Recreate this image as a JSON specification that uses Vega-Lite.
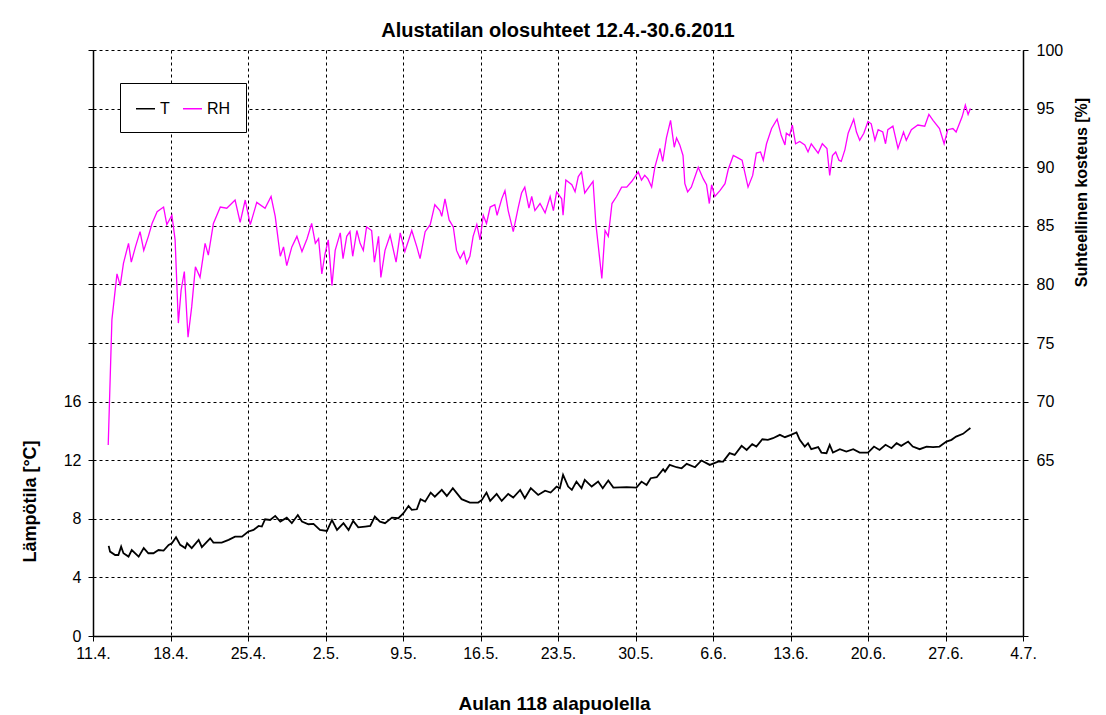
{
  "$schema": "https://vega.github.io/schema/vega-lite/v6.json",
  "width": 930,
  "height": 586,
  "autosize": "none",
  "padding": {"left": 93, "top": 50, "right": 83, "bottom": 79},
  "background": "white",
  "config": {
    "view": {"stroke": null},
    "font": "Liberation Sans",
    "axis": {
      "labelFont": "Liberation Sans",
      "labelFontSize": 16,
      "labelColor": "#000",
      "titleFont": "Liberation Sans",
      "titleFontWeight": "bold",
      "titleColor": "#000",
      "domainColor": "#000",
      "domainWidth": 1.5,
      "tickColor": "#000",
      "tickSize": 5,
      "tickWidth": 1
    }
  },
  "title": {
    "text": "Alustatilan olosuhteet 12.4.-30.6.2011",
    "font": "Liberation Sans",
    "fontSize": 20,
    "fontWeight": "bold",
    "color": "#000",
    "anchor": "middle",
    "offset": 1
  },
  "datasets": {
    "temp": [
      {"t":"2011-04-12T10:00","v":6.15},{"t":"2011-04-12T13:00","v":5.76},{"t":"2011-04-13T00:00","v":5.53},{"t":"2011-04-13T07:00","v":5.53},
      {"t":"2011-04-13T13:00","v":6.1},{"t":"2011-04-13T18:00","v":5.65},{"t":"2011-04-14T05:00","v":5.42},{"t":"2011-04-14T12:00","v":5.87},
      {"t":"2011-04-15T03:00","v":5.42},{"t":"2011-04-15T14:00","v":6.0},{"t":"2011-04-16T00:00","v":5.65},{"t":"2011-04-16T11:00","v":5.65},
      {"t":"2011-04-16T22:00","v":5.87},{"t":"2011-04-17T09:00","v":5.83},{"t":"2011-04-17T20:00","v":6.22},{"t":"2011-04-18T03:00","v":6.33},
      {"t":"2011-04-18T12:00","v":6.74},{"t":"2011-04-18T21:00","v":6.22},{"t":"2011-04-19T08:00","v":6.0},{"t":"2011-04-19T12:00","v":6.33},
      {"t":"2011-04-19T22:00","v":6.0},{"t":"2011-04-20T13:00","v":6.56},{"t":"2011-04-20T20:00","v":6.06},{"t":"2011-04-21T14:00","v":6.67},
      {"t":"2011-04-21T21:00","v":6.38},{"t":"2011-04-22T15:00","v":6.38},{"t":"2011-04-23T06:00","v":6.56},{"t":"2011-04-23T20:00","v":6.78},
      {"t":"2011-04-24T11:00","v":6.78},{"t":"2011-04-25T00:00","v":7.12},{"t":"2011-04-25T12:00","v":7.24},{"t":"2011-04-25T23:00","v":7.51},
      {"t":"2011-04-26T06:00","v":7.47},{"t":"2011-04-26T13:00","v":7.97},{"t":"2011-04-27T00:00","v":7.92},{"t":"2011-04-27T11:00","v":8.2},
      {"t":"2011-04-27T22:00","v":7.81},{"t":"2011-04-28T12:00","v":8.08},{"t":"2011-04-28T23:00","v":7.7},{"t":"2011-04-29T12:00","v":8.26},
      {"t":"2011-04-29T21:00","v":7.81},{"t":"2011-04-30T11:00","v":7.63},{"t":"2011-04-30T22:00","v":7.65},{"t":"2011-05-01T12:00","v":7.24},
      {"t":"2011-05-02T03:00","v":7.17},{"t":"2011-05-02T14:00","v":7.92},{"t":"2011-05-03T01:00","v":7.24},{"t":"2011-05-03T15:00","v":7.7},
      {"t":"2011-05-04T02:00","v":7.24},{"t":"2011-05-04T12:00","v":7.86},{"t":"2011-05-04T23:00","v":7.42},{"t":"2011-05-05T14:00","v":7.47},
      {"t":"2011-05-06T01:00","v":7.51},{"t":"2011-05-06T11:00","v":8.15},{"t":"2011-05-06T22:00","v":7.81},{"t":"2011-05-07T09:00","v":7.7},
      {"t":"2011-05-08T00:00","v":8.08},{"t":"2011-05-08T14:00","v":8.04},{"t":"2011-05-09T01:00","v":8.38},{"t":"2011-05-09T12:00","v":8.88},
      {"t":"2011-05-09T19:00","v":8.61},{"t":"2011-05-10T06:00","v":8.65},{"t":"2011-05-10T14:00","v":9.34},{"t":"2011-05-11T00:00","v":9.17},
      {"t":"2011-05-11T12:00","v":9.79},{"t":"2011-05-11T21:00","v":9.51},{"t":"2011-05-12T12:00","v":9.97},{"t":"2011-05-12T23:00","v":9.56},
      {"t":"2011-05-13T12:00","v":10.09},{"t":"2011-05-14T07:00","v":9.34},{"t":"2011-05-15T01:00","v":9.11},{"t":"2011-05-15T19:00","v":9.11},
      {"t":"2011-05-16T03:00","v":9.29},{"t":"2011-05-16T13:00","v":9.79},{"t":"2011-05-16T21:00","v":9.22},{"t":"2011-05-17T11:00","v":9.7},
      {"t":"2011-05-17T22:00","v":9.22},{"t":"2011-05-18T12:00","v":9.7},{"t":"2011-05-18T23:00","v":9.45},{"t":"2011-05-19T14:00","v":9.97},
      {"t":"2011-05-20T00:00","v":9.4},{"t":"2011-05-20T13:00","v":10.09},{"t":"2011-05-21T05:00","v":9.63},{"t":"2011-05-21T20:00","v":9.92},
      {"t":"2011-05-22T08:00","v":9.79},{"t":"2011-05-22T21:00","v":10.2},{"t":"2011-05-23T04:00","v":10.09},{"t":"2011-05-23T11:00","v":11.0},
      {"t":"2011-05-23T22:00","v":10.2},{"t":"2011-05-24T06:00","v":9.97},{"t":"2011-05-24T16:00","v":10.54},{"t":"2011-05-25T03:00","v":10.09},
      {"t":"2011-05-25T10:00","v":10.66},{"t":"2011-05-26T01:00","v":10.2},{"t":"2011-05-26T15:00","v":10.54},{"t":"2011-05-27T01:00","v":10.09},
      {"t":"2011-05-27T13:00","v":10.61},{"t":"2011-05-28T00:00","v":10.13},{"t":"2011-05-29T05:00","v":10.16},{"t":"2011-05-30T02:00","v":10.13},
      {"t":"2011-05-30T13:00","v":10.54},{"t":"2011-05-31T00:00","v":10.31},{"t":"2011-05-31T09:00","v":10.77},{"t":"2011-05-31T22:00","v":10.84},
      {"t":"2011-06-01T12:00","v":11.39},{"t":"2011-06-01T16:00","v":11.22},{"t":"2011-06-02T02:00","v":11.68},{"t":"2011-06-02T17:00","v":11.52},
      {"t":"2011-06-03T04:00","v":11.45},{"t":"2011-06-03T15:00","v":11.75},{"t":"2011-06-04T09:00","v":11.52},{"t":"2011-06-04T23:00","v":11.98},
      {"t":"2011-06-05T17:00","v":11.68},{"t":"2011-06-06T11:00","v":11.9},{"t":"2011-06-06T22:00","v":11.9},{"t":"2011-06-07T12:00","v":12.48},
      {"t":"2011-06-07T23:00","v":12.36},{"t":"2011-06-08T14:00","v":12.98},{"t":"2011-06-09T01:00","v":12.7},{"t":"2011-06-09T13:00","v":13.09},
      {"t":"2011-06-09T22:00","v":12.93},{"t":"2011-06-10T11:00","v":13.43},{"t":"2011-06-10T23:00","v":13.39},{"t":"2011-06-11T10:00","v":13.5},
      {"t":"2011-06-12T01:00","v":13.73},{"t":"2011-06-12T12:00","v":13.57},{"t":"2011-06-13T01:00","v":13.73},{"t":"2011-06-13T13:00","v":13.89},
      {"t":"2011-06-13T20:00","v":13.39},{"t":"2011-06-14T07:00","v":12.93},{"t":"2011-06-14T14:00","v":13.16},{"t":"2011-06-14T21:00","v":12.75},
      {"t":"2011-06-15T12:00","v":12.89},{"t":"2011-06-15T19:00","v":12.52},{"t":"2011-06-16T06:00","v":12.48},{"t":"2011-06-16T13:00","v":13.05},
      {"t":"2011-06-16T20:00","v":12.52},{"t":"2011-06-17T11:00","v":12.75},{"t":"2011-06-18T01:00","v":12.59},{"t":"2011-06-18T16:00","v":12.75},
      {"t":"2011-06-19T06:00","v":12.52},{"t":"2011-06-20T00:00","v":12.52},{"t":"2011-06-20T13:00","v":12.93},{"t":"2011-06-21T01:00","v":12.7},
      {"t":"2011-06-21T14:00","v":13.05},{"t":"2011-06-22T03:00","v":12.82},{"t":"2011-06-22T14:00","v":13.16},{"t":"2011-06-23T00:00","v":12.98},
      {"t":"2011-06-23T15:00","v":13.27},{"t":"2011-06-24T01:00","v":12.93},{"t":"2011-06-24T16:00","v":12.75},{"t":"2011-06-25T07:00","v":12.93},
      {"t":"2011-06-25T21:00","v":12.89},{"t":"2011-06-26T11:00","v":12.93},{"t":"2011-06-27T02:00","v":13.27},{"t":"2011-06-27T13:00","v":13.39},
      {"t":"2011-06-27T23:00","v":13.61},{"t":"2011-06-28T14:00","v":13.8},{"t":"2011-06-28T22:00","v":14.0},{"t":"2011-06-29T06:00","v":14.2}
    ],
    "rh": [
      {"t":"2011-04-12T09:00","v":66.3},{"t":"2011-04-12T17:00","v":77.0},{"t":"2011-04-13T04:00","v":80.9},{"t":"2011-04-13T11:00","v":79.9},
      {"t":"2011-04-13T18:00","v":81.8},{"t":"2011-04-14T05:00","v":83.5},{"t":"2011-04-14T11:00","v":81.9},{"t":"2011-04-14T20:00","v":83.2},
      {"t":"2011-04-15T06:00","v":84.5},{"t":"2011-04-15T14:00","v":82.9},{"t":"2011-04-16T00:00","v":84.1},{"t":"2011-04-16T08:00","v":85.2},
      {"t":"2011-04-16T19:00","v":86.2},{"t":"2011-04-17T09:00","v":86.6},{"t":"2011-04-17T16:00","v":85.1},{"t":"2011-04-18T03:00","v":85.9},
      {"t":"2011-04-18T10:00","v":83.8},{"t":"2011-04-18T17:00","v":76.7},{"t":"2011-04-18T23:00","v":79.5},{"t":"2011-04-19T06:00","v":81.1},
      {"t":"2011-04-19T14:00","v":75.5},{"t":"2011-04-19T22:00","v":78.1},{"t":"2011-04-20T06:00","v":81.5},{"t":"2011-04-20T16:00","v":80.6},
      {"t":"2011-04-21T03:00","v":83.5},{"t":"2011-04-21T10:00","v":82.5},{"t":"2011-04-21T21:00","v":85.2},{"t":"2011-04-22T12:00","v":86.6},
      {"t":"2011-04-23T02:00","v":86.5},{"t":"2011-04-23T20:00","v":87.2},{"t":"2011-04-24T07:00","v":85.3},{"t":"2011-04-24T18:00","v":87.2},
      {"t":"2011-04-25T05:00","v":85.1},{"t":"2011-04-25T19:00","v":87.0},{"t":"2011-04-26T13:00","v":86.5},{"t":"2011-04-27T02:00","v":87.5},
      {"t":"2011-04-27T11:00","v":85.8},{"t":"2011-04-27T22:00","v":82.4},{"t":"2011-04-28T05:00","v":83.2},{"t":"2011-04-28T12:00","v":81.6},
      {"t":"2011-04-28T23:00","v":83.2},{"t":"2011-04-29T10:00","v":84.1},{"t":"2011-04-29T21:00","v":82.8},{"t":"2011-04-30T08:00","v":83.9},
      {"t":"2011-04-30T18:00","v":85.2},{"t":"2011-05-01T02:00","v":83.5},{"t":"2011-05-01T09:00","v":83.9},{"t":"2011-05-01T16:00","v":80.9},
      {"t":"2011-05-01T23:00","v":82.6},{"t":"2011-05-02T06:00","v":83.8},{"t":"2011-05-02T14:00","v":79.9},{"t":"2011-05-02T21:00","v":82.9},
      {"t":"2011-05-03T08:00","v":84.4},{"t":"2011-05-03T14:00","v":82.2},{"t":"2011-05-03T22:00","v":84.1},{"t":"2011-05-04T05:00","v":84.5},
      {"t":"2011-05-04T11:00","v":82.4},{"t":"2011-05-04T20:00","v":84.6},{"t":"2011-05-05T03:00","v":83.5},{"t":"2011-05-05T10:00","v":82.9},
      {"t":"2011-05-05T17:00","v":84.9},{"t":"2011-05-06T04:00","v":84.6},{"t":"2011-05-06T10:00","v":81.9},{"t":"2011-05-06T19:00","v":84.1},
      {"t":"2011-05-07T00:00","v":80.6},{"t":"2011-05-07T09:00","v":82.9},{"t":"2011-05-07T20:00","v":84.2},{"t":"2011-05-08T09:00","v":81.9},
      {"t":"2011-05-08T18:00","v":84.4},{"t":"2011-05-09T04:00","v":82.8},{"t":"2011-05-09T19:00","v":84.6},{"t":"2011-05-10T06:00","v":83.2},
      {"t":"2011-05-10T13:00","v":82.2},{"t":"2011-05-11T00:00","v":84.5},{"t":"2011-05-11T11:00","v":85.1},{"t":"2011-05-11T21:00","v":86.8},
      {"t":"2011-05-12T08:00","v":86.3},{"t":"2011-05-12T12:00","v":85.8},{"t":"2011-05-12T19:00","v":87.3},{"t":"2011-05-13T04:00","v":85.5},
      {"t":"2011-05-13T13:00","v":84.9},{"t":"2011-05-13T20:00","v":82.9},{"t":"2011-05-14T04:00","v":82.2},{"t":"2011-05-14T12:00","v":82.8},
      {"t":"2011-05-14T18:00","v":81.8},{"t":"2011-05-15T01:00","v":82.4},{"t":"2011-05-15T08:00","v":84.1},{"t":"2011-05-15T16:00","v":85.1},
      {"t":"2011-05-15T23:00","v":83.8},{"t":"2011-05-16T06:00","v":85.9},{"t":"2011-05-16T13:00","v":85.2},{"t":"2011-05-16T21:00","v":86.6},
      {"t":"2011-05-17T07:00","v":86.8},{"t":"2011-05-17T12:00","v":85.9},{"t":"2011-05-17T22:00","v":87.3},{"t":"2011-05-18T05:00","v":88.0},
      {"t":"2011-05-18T12:00","v":86.3},{"t":"2011-05-18T23:00","v":84.5},{"t":"2011-05-19T10:00","v":86.6},{"t":"2011-05-19T17:00","v":87.8},
      {"t":"2011-05-20T00:00","v":88.3},{"t":"2011-05-20T09:00","v":86.5},{"t":"2011-05-20T15:00","v":87.5},{"t":"2011-05-20T22:00","v":86.3},
      {"t":"2011-05-21T09:00","v":86.9},{"t":"2011-05-21T20:00","v":86.1},{"t":"2011-05-22T07:00","v":87.5},{"t":"2011-05-22T14:00","v":86.3},
      {"t":"2011-05-22T21:00","v":87.9},{"t":"2011-05-23T08:00","v":87.3},{"t":"2011-05-23T11:00","v":85.9},{"t":"2011-05-23T17:00","v":88.9},
      {"t":"2011-05-24T06:00","v":88.5},{"t":"2011-05-24T13:00","v":87.9},{"t":"2011-05-24T20:00","v":89.2},{"t":"2011-05-25T03:00","v":89.6},
      {"t":"2011-05-25T10:00","v":87.8},{"t":"2011-05-25T19:00","v":88.3},{"t":"2011-05-26T04:00","v":88.8},{"t":"2011-05-26T10:00","v":85.2},
      {"t":"2011-05-26T15:00","v":83.4},{"t":"2011-05-26T23:00","v":80.5},{"t":"2011-05-27T06:00","v":84.6},{"t":"2011-05-27T13:00","v":84.1},
      {"t":"2011-05-27T21:00","v":86.9},{"t":"2011-05-28T07:00","v":87.5},{"t":"2011-05-28T18:00","v":88.3},{"t":"2011-05-29T05:00","v":88.3},
      {"t":"2011-05-29T16:00","v":88.8},{"t":"2011-05-30T06:00","v":89.6},{"t":"2011-05-30T13:00","v":88.9},{"t":"2011-05-30T20:00","v":89.3},
      {"t":"2011-05-31T03:00","v":89.0},{"t":"2011-05-31T11:00","v":88.3},{"t":"2011-05-31T18:00","v":90.0},{"t":"2011-06-01T05:00","v":91.6},
      {"t":"2011-06-01T11:00","v":90.5},{"t":"2011-06-01T19:00","v":92.5},{"t":"2011-06-02T04:00","v":94.0},{"t":"2011-06-02T12:00","v":91.7},
      {"t":"2011-06-02T17:00","v":92.5},{"t":"2011-06-03T00:00","v":91.9},{"t":"2011-06-03T07:00","v":91.0},{"t":"2011-06-03T11:00","v":88.6},
      {"t":"2011-06-03T17:00","v":87.9},{"t":"2011-06-04T01:00","v":88.3},{"t":"2011-06-04T16:00","v":90.0},{"t":"2011-06-05T03:00","v":89.0},
      {"t":"2011-06-05T10:00","v":88.5},{"t":"2011-06-05T16:00","v":86.9},{"t":"2011-06-05T21:00","v":88.5},{"t":"2011-06-06T04:00","v":87.5},
      {"t":"2011-06-06T15:00","v":88.0},{"t":"2011-06-07T02:00","v":88.6},{"t":"2011-06-07T09:00","v":89.8},{"t":"2011-06-07T20:00","v":91.0},
      {"t":"2011-06-08T06:00","v":90.8},{"t":"2011-06-08T15:00","v":90.6},{"t":"2011-06-08T19:00","v":89.9},{"t":"2011-06-09T04:00","v":88.3},
      {"t":"2011-06-09T14:00","v":89.3},{"t":"2011-06-09T22:00","v":91.2},{"t":"2011-06-10T07:00","v":91.3},{"t":"2011-06-10T13:00","v":90.6},
      {"t":"2011-06-10T20:00","v":92.0},{"t":"2011-06-11T07:00","v":93.3},{"t":"2011-06-11T19:00","v":94.1},{"t":"2011-06-12T04:00","v":92.7},
      {"t":"2011-06-12T12:00","v":91.9},{"t":"2011-06-12T15:00","v":92.9},{"t":"2011-06-12T22:00","v":92.7},{"t":"2011-06-13T04:00","v":93.6},
      {"t":"2011-06-13T11:00","v":92.0},{"t":"2011-06-13T20:00","v":92.2},{"t":"2011-06-14T07:00","v":91.9},{"t":"2011-06-14T14:00","v":91.3},
      {"t":"2011-06-14T21:00","v":92.0},{"t":"2011-06-15T12:00","v":91.2},{"t":"2011-06-15T21:00","v":92.0},{"t":"2011-06-16T07:00","v":91.6},
      {"t":"2011-06-16T13:00","v":89.3},{"t":"2011-06-16T19:00","v":91.0},{"t":"2011-06-17T02:00","v":91.3},{"t":"2011-06-17T09:00","v":90.6},
      {"t":"2011-06-17T14:00","v":90.5},{"t":"2011-06-17T22:00","v":91.5},{"t":"2011-06-18T05:00","v":92.9},{"t":"2011-06-18T17:00","v":94.1},
      {"t":"2011-06-18T23:00","v":93.0},{"t":"2011-06-19T06:00","v":92.3},{"t":"2011-06-19T15:00","v":92.9},{"t":"2011-06-20T00:00","v":93.9},
      {"t":"2011-06-20T07:00","v":93.7},{"t":"2011-06-20T15:00","v":92.3},{"t":"2011-06-20T22:00","v":93.2},{"t":"2011-06-21T08:00","v":93.0},
      {"t":"2011-06-21T14:00","v":92.0},{"t":"2011-06-21T19:00","v":93.2},{"t":"2011-06-22T06:00","v":93.5},{"t":"2011-06-22T17:00","v":91.6},
      {"t":"2011-06-23T05:00","v":93.0},{"t":"2011-06-23T11:00","v":92.3},{"t":"2011-06-23T22:00","v":93.2},{"t":"2011-06-24T12:00","v":93.6},
      {"t":"2011-06-25T03:00","v":93.5},{"t":"2011-06-25T12:00","v":94.5},{"t":"2011-06-25T21:00","v":94.0},{"t":"2011-06-26T11:00","v":93.3},
      {"t":"2011-06-26T21:00","v":92.0},{"t":"2011-06-27T05:00","v":93.2},{"t":"2011-06-27T16:00","v":93.3},{"t":"2011-06-27T23:00","v":93.0},
      {"t":"2011-06-28T12:00","v":94.3},{"t":"2011-06-28T19:00","v":95.3},{"t":"2011-06-29T01:00","v":94.5},{"t":"2011-06-29T06:00","v":95.0}
    ]
  },
  "layer": [
    {
      "data": {"name": "temp"},
      "mark": {"type": "line", "strokeWidth": 1.8},
      "encoding": {
        "x": {
          "field": "t", "type": "temporal",
          "scale": {"domain": [{"year": 2011, "month": 4, "date": 11}, {"year": 2011, "month": 7, "date": 4}]},
          "axis": {
            "values": [
              {"year": 2011, "month": 4, "date": 11}, {"year": 2011, "month": 4, "date": 18}, {"year": 2011, "month": 4, "date": 25},
              {"year": 2011, "month": 5, "date": 2}, {"year": 2011, "month": 5, "date": 9}, {"year": 2011, "month": 5, "date": 16},
              {"year": 2011, "month": 5, "date": 23}, {"year": 2011, "month": 5, "date": 30}, {"year": 2011, "month": 6, "date": 6},
              {"year": 2011, "month": 6, "date": 13}, {"year": 2011, "month": 6, "date": 20}, {"year": 2011, "month": 6, "date": 27},
              {"year": 2011, "month": 7, "date": 4}
            ],
            "format": "%-d.%-m.",
            "labelPadding": 4,
            "labelFlush": false,
            "labelOverlap": false,
            "grid": true,
            "gridColor": "#000",
            "gridDash": [3, 3],
            "gridWidth": 1,
            "title": "Aulan 118 alapuolella",
            "titleFontSize": 19,
            "titleX": 461,
            "titleY": 73,
            "titleBaseline": "alphabetic"
          }
        },
        "y": {
          "field": "v", "type": "quantitative",
          "scale": {"domain": [0, 40], "nice": false},
          "axis": {
            "values": [0, 4, 8, 12, 16, 20, 24, 28, 32, 36, 40],
            "labelExpr": "datum.value <= 16 ? datum.label : ''",
            "labelPadding": 7,
            "grid": true,
            "gridColor": "#000",
            "gridDash": [3, 3],
            "gridWidth": 1,
            "title": "Lämpötila [°C]",
            "titleFontSize": 18,
            "titleX": -58,
            "titleY": 451,
            "titleAngle": -90,
            "titleBaseline": "alphabetic"
          }
        },
        "color": {
          "datum": "T",
          "scale": {"domain": ["T", "RH"], "range": ["#000000", "#FF00FF"]},
          "legend": {
            "orient": "none",
            "legendX": 27,
            "legendY": 33,
            "direction": "horizontal",
            "title": null,
            "strokeColor": "#000",
            "fillColor": "#fff",
            "padding": 15,
            "symbolType": "stroke",
            "symbolSize": 361,
            "symbolStrokeWidth": 1.5,
            "labelFont": "Liberation Sans",
            "labelFontSize": 16,
            "labelColor": "#000",
            "labelOffset": 4,
            "columnPadding": 10
          }
        }
      }
    },
    {
      "data": {"name": "rh"},
      "mark": {"type": "line", "strokeWidth": 1.3},
      "encoding": {
        "x": {"field": "t", "type": "temporal"},
        "y": {
          "field": "v", "type": "quantitative",
          "scale": {"domain": [50, 100], "nice": false},
          "axis": {
            "orient": "right",
            "values": [50, 55, 60, 65, 70, 75, 80, 85, 90, 95, 100],
            "labelExpr": "datum.value >= 65 ? datum.label : ''",
            "labelPadding": 8,
            "grid": false,
            "title": "Suhteellinen kosteus [%]",
            "titleFontSize": 16,
            "titleX": 63,
            "titleY": 142,
            "titleAngle": -90,
            "titleBaseline": "alphabetic"
          }
        },
        "color": {"datum": "RH"}
      }
    }
  ],
  "resolve": {"scale": {"y": "independent"}}
}
